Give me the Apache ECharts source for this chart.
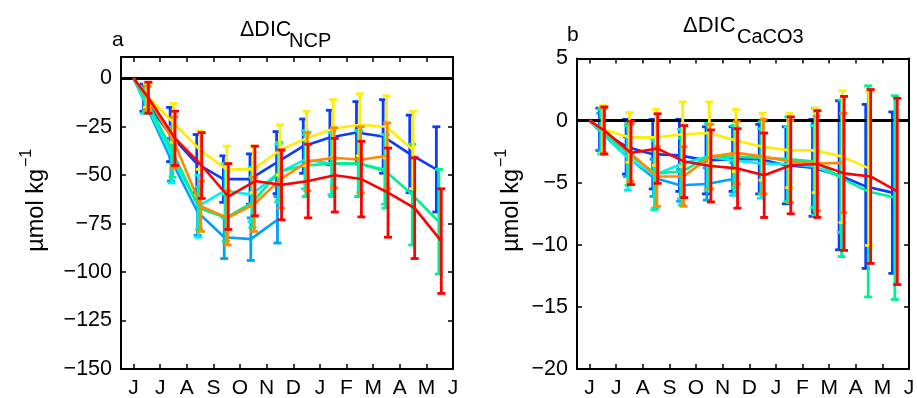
<!DOCTYPE html>
<html>
<head>
<meta charset="UTF-8">
<script src="https://cdn.jsdelivr.net/npm/echarts@6/dist/echarts.min.js"></script>
<style>
  html, body { margin: 0; padding: 0; background: #fff; }
  #chart { width: 917px; height: 398px; }
</style>
</head>
<body>
<div id="chart"></div>
<script>
// month tick labels (June .. June) and mid-month sample times
const monthLabels = ['J', 'J', 'A', 'S', 'O', 'N', 'D', 'J', 'F', 'M', 'A', 'M', 'J'];
const months = [0.5, 1.5, 2.5, 3.5, 4.5, 5.5, 6.5, 7.5, 8.5, 9.5, 10.5, 11.5];

// panel a: ΔDIC_NCP (µmol kg-1), mean and error per series
const aBlue = [-10, -29, -44, -52, -52, -43.5, -35, -30.5, -28, -30, -39, -47];
const aBlueErr = [7, 14, 15, 12, 13, 16, 14, 14, 16, 19, 20, 22];
const aAzure = [-12, -42, -69, -82, -83, -73];
const aAzureErr = [6, 11, 12, 11, 11, 12];
const aCyan = [-12, -40, -66, -58, -60, -49, -42, -44, -44, -47];
const aCyanErr = [6, 14, 16, 14, 14, 15, 15, 16, 17, 18];
const aGreen = [-11, -38, -67, -72, -64, -48, -45, -44, -44, -48, -60, -74];
const aGreenErr = [6, 13, 11, 12, 13, 15, 16, 17, 17, 19, 26, 27];
const aYellow = [-9, -23, -37, -47, -47, -37, -31, -26, -24, -25, -37];
const aYellowErr = [6, 10, 10, 12, 12, 13, 14, 15, 16, 16, 20];
const aOrange = [-10, -33, -66, -72, -65, -52, -43, -41, -42, -40];
const aOrangeErr = [6, 13, 13, 14, 14, 15, 15, 15.5, 17, 17];
const aRed = [-10, -31, -45, -61, -53, -55, -53, -50, -52, -59, -67, -84];
const aRedErr = [8, 14, 17, 17, 18, 18, 19, 19, 19.5, 23, 26, 27];

// panel b: ΔDIC_CaCO3 (µmol kg-1)
const bBlue = [-0.7, -2.1, -2.7, -2.8, -3.2, -3.1, -3.1, -3.6, -3.8, -4.4, -5.3, -5.8];
const bBlueErr = [1.7, 2.2, 2.8, 2.9, 2.7, 2.6, 2.8, 3.1, 3.9, 6, 6.6, 6.5];
const bAzure = [-0.9, -2.9, -4.6, -5.2, -5.1, -4.7];
const bAzureErr = [1.5, 1.6, 1.5, 1.3, 1.3, 1.3];
const bCyan = [-0.9, -3.0, -4.4, -3.5, -2.9, -3.2, -3.45, -3.5, -3.7, -4.5];
const bCyanErr = [1.8, 2.6, 2.8, 2.8, 2.7, 2.8, 2.8, 3.0, 3.3, 4.5];
const bGreen = [-0.8, -2.7, -4.25, -4.1, -2.9, -2.9, -3.0, -3.1, -3.3, -4.65, -5.7, -6.2];
const bGreenErr = [1.8, 2.5, 2.8, 2.7, 2.6, 2.5, 2.9, 3.4, 4.3, 6.3, 8.5, 8.2];
const bYellow = [-0.7, -1.35, -1.35, -1.1, -1.0, -1.6, -2.1, -2.4, -2.4, -2.9, -3.85];
const bYellowErr = [1.9, 2.0, 2.25, 2.6, 2.5, 2.5, 2.7, 3.0, 3.4, 5.3, 6.2];
const bOrange = [-0.8, -2.6, -4.5, -4.5, -2.9, -2.6, -2.9, -3.3, -3.45, -3.4];
const bOrangeErr = [1.8, 2.3, 2.4, 2.4, 2.6, 2.5, 3.0, 3.3, 3.8, 4.0];
const bRed = [-0.8, -2.6, -2.25, -3.3, -3.65, -3.85, -4.4, -3.6, -3.5, -4.25, -4.5, -5.7];
const bRedErr = [1.9, 2.55, 2.8, 2.9, 2.9, 3.2, 3.4, 3.9, 4.3, 6.2, 7.0, 7.5];

const aTicks = [0, -25, -50, -75, -100, -125, -150];
const bTicks = [5, 0, -5, -10, -15, -20];
const monthTicks = monthLabels.map((m, i) => i);

// jet-like colours, plotted left to right inside each month
const colors = ['#0a3cff', '#00a0ff', '#00f0f0', '#00f090', '#ffee00', '#ff8a00', '#ff0000'];
const dodge = [-0.125, -0.094, -0.063, -0.031, 0, 0.031, 0.06];

const FONT = "'Liberation Sans', Arial, Helvetica, sans-serif";
const fmtMinus = v => (v < 0 ? '\u2212' + (-v) : String(v));

function xAxes(gridIndex) {
  const base = {
    type: 'value', gridIndex, min: -0.47, max: 12,
    axisLine: { show: true, onZero: false, lineStyle: { color: '#000', width: 2 } },
    axisTick: { show: true, inside: true, length: 5, customValues: monthTicks, lineStyle: { color: '#000', width: 1.5 } },
    splitLine: { show: false }
  };
  return [
    Object.assign({}, base, {
      position: 'bottom',
      axisLabel: {
        customValues: monthTicks, color: '#000', fontSize: 21, fontFamily: FONT, margin: 9,
        formatter: v => monthLabels[Math.round(v)]
      }
    }),
    Object.assign({}, base, { position: 'top', axisLabel: { show: false } })
  ];
}

function yAxes(gridIndex, min, max, ticks) {
  const base = {
    type: 'value', gridIndex, min, max,
    axisLine: { show: true, onZero: false, lineStyle: { color: '#000', width: 2 } },
    axisTick: { show: true, inside: true, length: 5, customValues: ticks, lineStyle: { color: '#000', width: 1.5 } },
    splitLine: { show: false }
  };
  return [
    Object.assign({}, base, {
      position: 'left',
      axisLabel: { customValues: ticks, color: '#000', fontSize: 21.5, fontFamily: FONT, margin: 9, formatter: fmtMinus }
    }),
    Object.assign({}, base, { position: 'right', axisLabel: { show: false } })
  ];
}

function addSeries(list, panel, idx, mean, err) {
  const xi = panel * 2, yi = panel * 2;
  const color = colors[idx];
  const pts = [[0, 0]].concat(mean.map((m, i) => [months[i] + dodge[idx], m]));
  list.push({
    type: 'line', xAxisIndex: xi, yAxisIndex: yi, data: pts,
    showSymbol: false, symbol: 'none', z: 2 + idx,
    lineStyle: { color, width: 2.6 }, silent: true
  });
  list.push({
    type: 'custom', xAxisIndex: xi, yAxisIndex: yi, z: 2 + idx,
    data: mean.map((m, i) => [months[i] + dodge[idx], m - err[i], m + err[i]]),
    encode: { x: 0, y: [1, 2] }, silent: true,
    renderItem: (params, api) => {
      const x = api.value(0);
      const lo = api.coord([x, api.value(1)]);
      const hi = api.coord([x, api.value(2)]);
      const cap = 4;
      const st = { stroke: color, lineWidth: 2.8 };
      return {
        type: 'group',
        children: [
          { type: 'line', shape: { x1: lo[0], y1: lo[1], x2: hi[0], y2: hi[1] }, style: st },
          { type: 'line', shape: { x1: lo[0] - cap, y1: lo[1], x2: lo[0] + cap, y2: lo[1] }, style: st },
          { type: 'line', shape: { x1: hi[0] - cap, y1: hi[1], x2: hi[0] + cap, y2: hi[1] }, style: st }
        ]
      };
    }
  });
}

const series = [];
[[aBlue, aBlueErr], [aAzure, aAzureErr], [aCyan, aCyanErr], [aGreen, aGreenErr],
 [aYellow, aYellowErr], [aOrange, aOrangeErr], [aRed, aRedErr]]
  .forEach((s, i) => addSeries(series, 0, i, s[0], s[1]));
[[bBlue, bBlueErr], [bAzure, bAzureErr], [bCyan, bCyanErr], [bGreen, bGreenErr],
 [bYellow, bYellowErr], [bOrange, bOrangeErr], [bRed, bRedErr]]
  .forEach((s, i) => addSeries(series, 1, i, s[0], s[1]));

// zero reference lines
[0, 1].forEach(p => {
  series.push({
    type: 'line', xAxisIndex: p * 2, yAxisIndex: p * 2, data: [], z: 20, silent: true,
    markLine: {
      silent: true, symbol: ['none', 'none'], label: { show: false }, animation: false,
      lineStyle: { color: '#000', width: 3, type: 'solid' },
      data: [{ yAxis: 0 }]
    }
  });
});

function ylabel(x, y) {
  return {
    type: 'group', x, y, rotation: Math.PI / 2,
    children: [
      { type: 'text', x: 38, y: 0, style: { text: '\u00b5mol kg', font: '23.5px ' + FONT, fill: '#000', align: 'right', verticalAlign: 'middle' } },
      { type: 'text', x: 40, y: -10, style: { text: '\u22121', font: '16px ' + FONT, fill: '#000', align: 'left', verticalAlign: 'middle' } }
    ]
  };
}

function txt(text, x, y, size, align) {
  return { type: 'text', x, y, style: { text, font: size + 'px ' + FONT, fill: '#000', align: align || 'left', verticalAlign: 'middle' } };
}

const chart = echarts.init(document.getElementById('chart'), null, { renderer: 'canvas' });
chart.setOption({
  animation: false,
  backgroundColor: '#fff',
  grid: [
    { left: 121, top: 57, width: 332, height: 312, outerBoundsMode: 'none' },
    { left: 577, top: 58.5, width: 332, height: 310.5, outerBoundsMode: 'none' }
  ],
  xAxis: xAxes(0).concat(xAxes(1)),
  yAxis: yAxes(0, -150, 11, aTicks).concat(yAxes(1, -20, 5, bTicks)),
  series,
  graphic: [
    txt('a', 112, 40, 21),
    txt('\u0394DIC', 240, 30, 21.5),
    txt('NCP', 289, 41, 20),
    txt('b', 567, 35, 21),
    txt('\u0394DIC', 683, 26, 22),
    txt('CaCO3', 737, 37, 20),
    ylabel(37, 207),
    ylabel(512, 207)
  ]
});
</script>
</body>
</html>
